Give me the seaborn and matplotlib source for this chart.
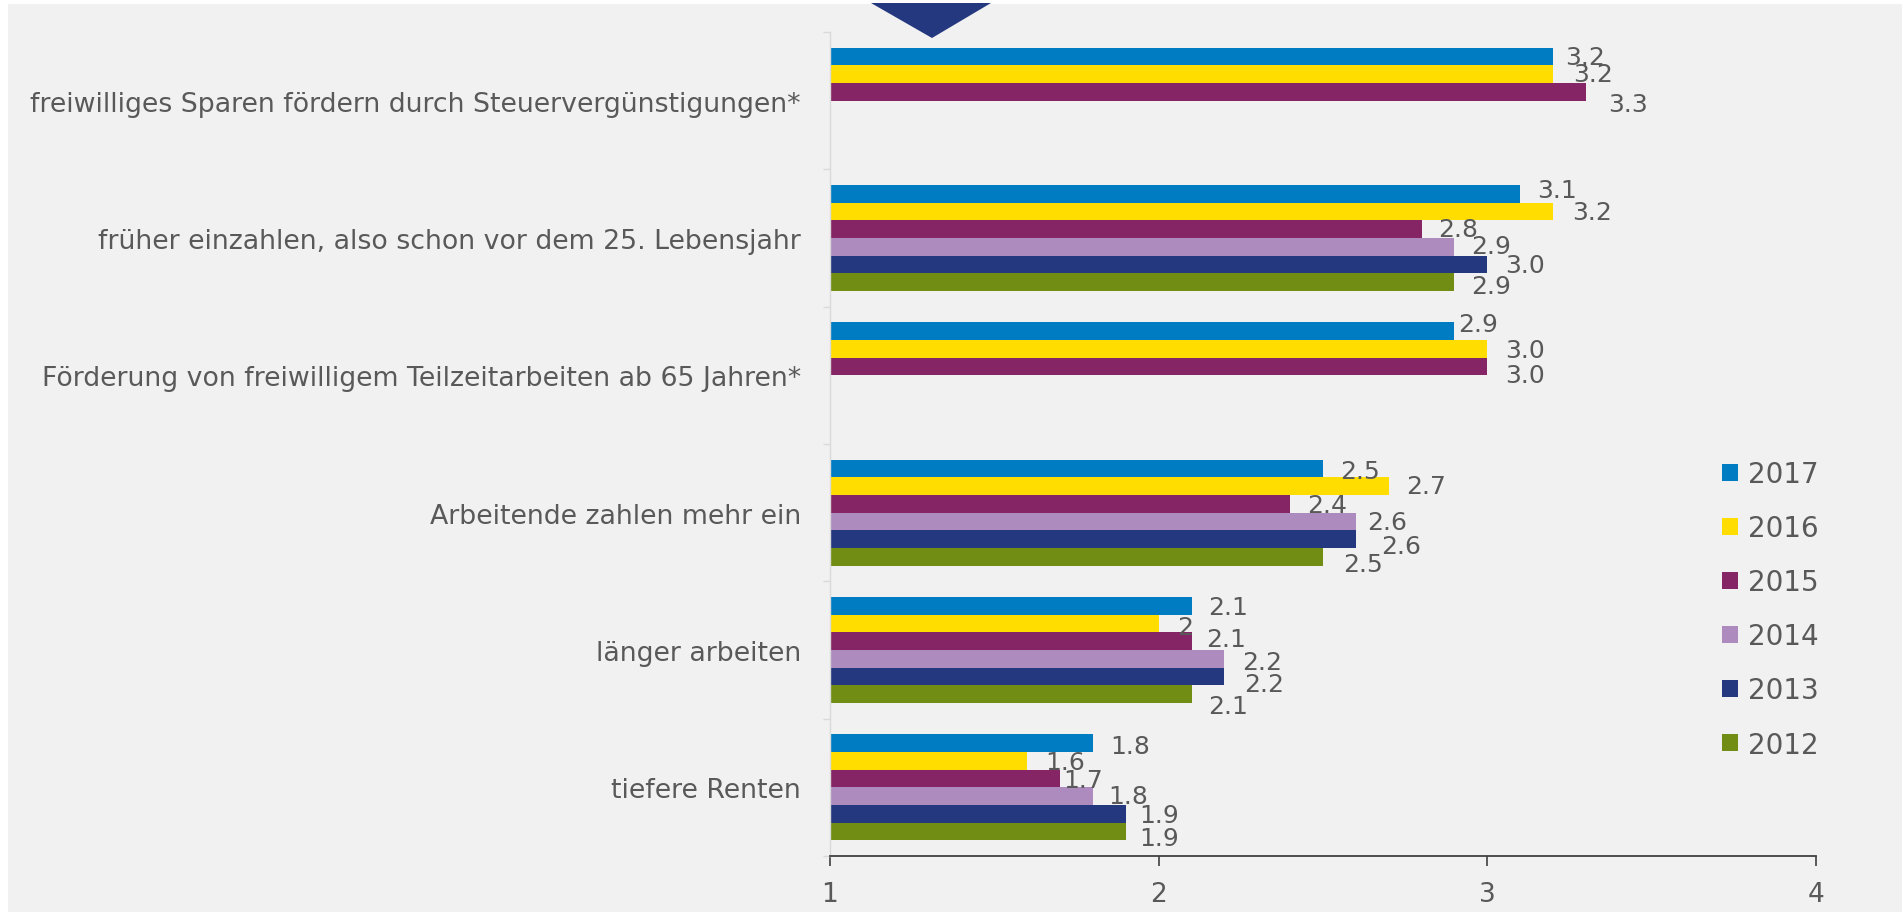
import numpy as np
import pandas as pd
import matplotlib
matplotlib.use("Agg")
import matplotlib.pyplot as plt
from matplotlib.patches import Rectangle, Polygon
import seaborn as sns

categories = [
    "freiwilliges Sparen fördern durch Steuervergünstigungen*",
    "früher einzahlen, also schon vor dem 25. Lebensjahr",
    "Förderung von freiwilligem Teilzeitarbeiten ab 65 Jahren*",
    "Arbeitende zahlen mehr ein",
    "länger arbeiten",
    "tiefere Renten",
]
years = ["2017", "2016", "2015", "2014", "2013", "2012"]
v2017 = [3.2, 3.1, 2.9, 2.5, 2.1, 1.8]
v2016 = [3.2, 3.2, 3.0, 2.7, 2.0, 1.6]
v2015 = [3.3, 2.8, 3.0, 2.4, 2.1, 1.7]
v2014 = [np.nan, 2.9, np.nan, 2.6, 2.2, 1.8]
v2013 = [np.nan, 3.0, np.nan, 2.6, 2.2, 1.9]
v2012 = [np.nan, 2.9, np.nan, 2.5, 2.1, 1.9]
# label texts as printed in the chart
t2017 = ["3.2", "3.1", "2.9", "2.5", "2.1", "1.8"]
t2016 = ["3.2", "3.2", "3.0", "2.7", "2", "1.6"]
t2015 = ["3.3", "2.8", "3.0", "2.4", "2.1", "1.7"]
t2014 = [None, "2.9", None, "2.6", "2.2", "1.8"]
t2013 = [None, "3.0", None, "2.6", "2.2", "1.9"]
t2012 = [None, "2.9", None, "2.5", "2.1", "1.9"]
x_ticks = [1, 2, 3, 4]

# label placement nudges (pixels: right of bar end, below bar centre), per year / category
nudge_x = {
    "2017": [12, 17, 4, 17, 17, 17],
    "2016": [20, 19, 18, 17, 18, 18],
    "2015": [22, 17, 18, 17, 15, 3],
    "2014": [0, 17, 0, 11, 18, 15],
    "2013": [0, 18, 0, 25, 20, 13],
    "2012": [0, 17, 0, 20, 17, 13],
}
nudge_y = {
    "2017": [0, -4, -7, 2, 1, 3],
    "2016": [0, 0, 1, 0, 3, 1],
    "2015": [12, 0, 8, 1, -2, 1],
    "2014": [0, -1, 0, 1, 3, 0],
    "2013": [0, 1, 0, 7, 8, 1],
    "2012": [0, 4, 0, 7, 12, 7],
}

series = [v2017, v2016, v2015, v2014, v2013, v2012]
texts = [t2017, t2016, t2015, t2014, t2013, t2012]
colors = ["#007CC3", "#FFDD00", "#862565", "#AD8BBE", "#24387F", "#718D14"]

rows = []
for y, vals in zip(years, series):
    for c, v in zip(categories, vals):
        rows.append({"Kategorie": c, "Jahr": y, "Wert": v})
df = pd.DataFrame(rows).dropna()

TXT = "#595959"
BG = "#F1F1F1"

sns.set_theme(style="white")
plt.rcParams["font.family"] = ["DejaVu Sans"]

fig = plt.figure(figsize=(19.02, 9.2), dpi=100)
fig.patch.set_facecolor("white")
fig.patches.append(Rectangle((8 / 1902, 1 - 913 / 920), 1 - 8 / 1902, (913 - 5) / 920,
                             transform=fig.transFigure, facecolor=BG, edgecolor="none", zorder=-5))
fig.patches.append(Polygon([(871 / 1902, 1 - 4 / 920), (991 / 1902, 1 - 4 / 920), (932 / 1902, 1 - 39 / 920)],
                           closed=True, transform=fig.transFigure, facecolor="#24387F",
                           edgecolor="none", zorder=-4))

ax = fig.add_axes([830 / 1902, 1 - 857 / 920, (1816 - 830) / 1902, (857 - 33) / 920])
ax.set_facecolor("none")
ax.set_zorder(2)

sns.barplot(data=df, y="Kategorie", x="Wert", hue="Jahr", order=categories,
            hue_order=years, palette=dict(zip(years, colors)), orient="h",
            width=0.77, saturation=1, linewidth=0, errorbar=None, ax=ax)

PX = 72 / 100.0
for cont, yr, tl in zip(ax.containers, years, texts):
    idx = [i for i, t in enumerate(tl) if t is not None]
    for bar, i in zip(cont.patches, idx):
        xe = bar.get_x() + bar.get_width()
        yc = bar.get_y() + bar.get_height() / 2
        ax.annotate(tl[i], xy=(xe, yc), xytext=(nudge_x[yr][i] * PX, -nudge_y[yr][i] * PX),
                    textcoords="offset points", ha="left", va="center",
                    fontsize=18, color=TXT, annotation_clip=False)

ax.set_xlim(1, 4)
ax.set_xticks(x_ticks)
ax.set_xticklabels([str(t) for t in x_ticks])
ax.set_ylim(len(categories) - 0.5, -0.5)
ax.set_xlabel("")
ax.set_ylabel("")

for s in ["top", "right"]:
    ax.spines[s].set_visible(False)
ax.spines["bottom"].set_color("#404040")
ax.spines["bottom"].set_linewidth(1.3)
ax.spines["left"].set_color("#D9D9D9")
ax.spines["left"].set_linewidth(1.0)

ax.tick_params(axis="x", bottom=True, length=7, width=1.2, color="#404040",
               labelsize=19, labelcolor=TXT, pad=11)
ax.tick_params(axis="y", which="major", left=False, labelsize=19.3, labelcolor=TXT, pad=15)
ax.set_yticks(np.arange(-0.5, len(categories), 1.0), minor=True)
ax.tick_params(axis="y", which="minor", left=True, length=5, width=1, color="#D9D9D9")

handles, labels = ax.get_legend_handles_labels()
ax.legend(handles, labels, loc="upper left", bbox_to_anchor=(1722 / 1902, 1 - 461 / 920),
          bbox_transform=fig.transFigure, frameon=False, fontsize=20,
          labelcolor=TXT, handlelength=0.58, handleheight=0.58, handletextpad=0.35,
          labelspacing=0.94, borderpad=0, borderaxespad=0)

fig.savefig("out.png", dpi=100, facecolor="white")
